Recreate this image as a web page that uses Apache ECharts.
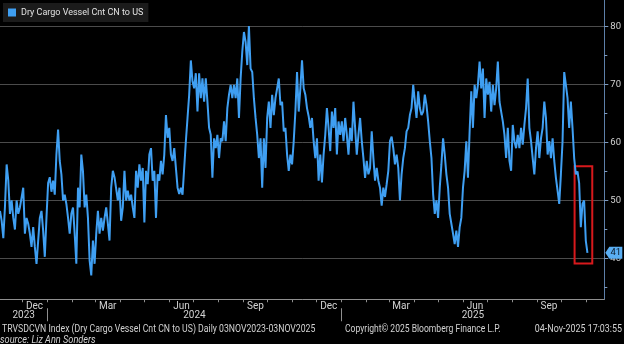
<!DOCTYPE html>
<html>
<head>
<meta charset="utf-8">
<script src="https://cdn.jsdelivr.net/npm/echarts@6/dist/echarts.min.js"></script>
<style>
  html, body { margin: 0; padding: 0; background: #000; }
  #chart { width: 624px; height: 344px; }
</style>
</head>
<body>
<div id="chart"></div>
<script>
// Dry cargo vessel count, China to US, evenly spaced readings 03NOV2023 - 03NOV2025
const seriesName = 'Dry Cargo Vessel Cnt CN to US';

const vesselCntPart1 = [
  48.2,46.5,43.5,49,56.2,53.4,47.7,50,47,45,
  50,47.7,48.8,50.5,52.2,44.3,47,46,44.3,42,
  45.4,42,39.1,39.1,47,48.2,44.8,40.3,47,53,
  54,51.5,53.4,51,57.9,62.2,56.8,54.5,50,51,
  49.4,47,44.3,47.7,48.8,44.3,39.1,52.2,48.8,57.9,
  55,48.8,51,47,39.7,37.1,43.1,39.1,44.3,48.2,
  44.3,47,44.8,47,48.8,46,43.1,52.2,55.1,54,
  53.9,50,52.2,46.5,48.8,55.1,50,51.7,50,51,
  48.8,47,55.1,52.2,56.2,53.4,55.6,46.2,55.1,52.8,
  57.9,59,53.4,55.1,47,54.5,53.4,56.8,54.5,57.9,
  64.7,60.8,62.5,57.9,56.8,59,55.6,52.2,51.1,52.2,
  51,51,60.2,64.2,68.2,74.1,70.5,69.3,71.9,65.3,
  71.9,67.6,71,67,71,67,62.5,61.3,53.9,60.7,
  59,61.3,57.3,60.7,60.2,63.6,60.2,65.9,68.2,69.9,
  67.6,69.9,67.6,71,64.2,71,75.6,79,77.3,73.3,
  80,72.7,72.1,67.6,64.2,61.3,57.3,60.7,52.2,60.7,
  55.6,64.2,67,62.5,68.2,64.7,67.6,69.3,71,66.4,
  67,61.9,62.5,57.9,55.1,57.9,56.2,60.2,65.3,72.1
];

const vesselCntPart2 = [
  65.3,69.3,74.1,69.3,68.2,65.9,64.5,62.5,64.2,60.2,
  57.3,60.7,53.4,57.9,53.1,57.9,61.3,65.9,62.5,58.5,
  65.3,62.5,65.9,57.9,63.6,61.3,63.6,60.2,64.2,61.3,
  57.9,62.5,60.2,67,62.5,57.9,61.3,64.2,60.2,57.3,
  53.9,56.8,54.5,55.6,61.9,57.3,53.4,55.6,53.4,52.2,
  49.1,52.2,50.6,52.8,55.1,60.2,61,59,56.2,57.9,
  55.6,50,54.5,57.3,59,61.9,62.5,64.7,65.9,69.9,
  67,64.2,68.8,65.9,64.7,65.3,68.2,66.4,63.6,60.2,
  57.3,51.1,47.7,50,47,52.2,56.2,60.7,57.9,54.5,
  52.2,47.7,46,44.3,42.5,44.8,42,45.4,47,52.2,
  55.1,60.2,53.9,61.9,68.8,62.5,69.9,67.6,69.9,73.9,
  69.3,72.7,64.2,71,68.2,70.4,65.3,69.9,66.4,69.3,
  73.9,67,65.3,63.6,61.3,57.3,62.5,56.8,55.1,63,
  60.2,59,61.3,59,62.5,59.6,63,65.9,71,62.5,
  60.2,57.3,54.5,59,61.9,57.3,60.7,62.5,67,64.2,
  57.9,60.2,57.3,60.7,56.8,53.9,51.7,49.4,54.5,60.2,
  72.1,69.9,67.6,62.5,67,62.5,57.3,54.5,55,53,
  45.4,49.4,50,43.1,41
];

const firstDay = [2023, 10, 3];   // 03NOV2023
const lastDay  = [2025, 10, 3];   // 03NOV2025
const axisEndDay = [2025, 10, 24];

const yMajorTicks = [40, 50, 60, 70, 80];
const yMinorTicks = [35, 45, 55, 65, 75];
const monthAbbr = ['Jan','Feb','Mar','Apr','May','Jun','Jul','Aug','Sep','Oct','Nov','Dec'];
const labelledMonths = [11, 2, 5, 8];   // Dec, Mar, Jun, Sep

// highlighted recent drop: from date, to date, value range
const boxFrom = [2025, 9, 18];
const boxTo = [2025, 10, 9];
const boxRange = [39.15, 55.9];

const ts = (d) => new Date(d[0], d[1], d[2]).getTime();
const t0 = ts(firstDay), t1 = ts(lastDay), tEnd = ts(axisEndDay);

const values = vesselCntPart1.concat(vesselCntPart2);
const step = (t1 - t0) / (values.length - 1);
const lineData = values.map((v, i) => [t0 + i * step, v]);
const lastValue = values[values.length - 1];

// month boundaries and mid-month label positions
const monthStarts = [], monthMids = [], yearStarts = [], yearMids = [];
for (let y = 2023; y <= 2025; y++) {
  for (let m = 0; m < 12; m++) {
    const s = new Date(y, m, 1).getTime();
    if (s > t0 && s < tEnd) monthStarts.push(s);
    const mid = new Date(y, m, 16).getTime();
    if (labelledMonths.includes(m) && mid > t0 && mid < tEnd) monthMids.push(mid);
  }
  const ys = new Date(y, 0, 1).getTime(), ye = new Date(y + 1, 0, 1).getTime();
  if (ys > t0) yearStarts.push(ys);
  yearMids.push((Math.max(ys, t0) + Math.min(ye, tEnd)) / 2);
}

const FONT = 'Roboto, "Liberation Sans", sans-serif';
const textGrey = '#d2d2d2';
const axisGrey = '#8f8f8f';

// footer line text, squeezed horizontally like a terminal font
const footer = (x, y, text, scale, align, italic) => ({
  type: 'text', x: x, y: y, scaleX: scale, silent: true,
  style: { text: text, fill: textGrey, align: align || 'left', verticalAlign: 'middle',
           font: (italic ? 'italic ' : '') + '10px ' + FONT }
});

const chart = echarts.init(document.getElementById('chart'), null, { renderer: 'canvas' });
chart.setOption({
  animation: false,
  backgroundColor: '#000',
  legend: {
    data: [seriesName],
    left: 3, top: 3,
    padding: [5, 5, 5, 5],
    backgroundColor: '#1b1b1b',
    icon: 'rect',
    itemWidth: 8, itemHeight: 8,
    textStyle: { color: '#e2e2e2', fontSize: 9, fontFamily: FONT }
  },
  grid: { left: 0, right: 17.3, top: -2.33, bottom: 44.75, containLabel: false },
  xAxis: [{
    type: 'value', min: t0, max: tEnd,
    axisLine: { lineStyle: { color: axisGrey, width: 1 } },
    axisTick: { show: true, customValues: monthStarts, length: 3, lineStyle: { color: axisGrey } },
    axisLabel: {
      customValues: monthMids, margin: 2, color: textGrey, fontSize: 10, fontFamily: FONT,
      formatter: (v) => monthAbbr[new Date(v).getMonth()]
    },
    splitLine: { show: false }
  }, {
    type: 'value', min: t0, max: tEnd, position: 'bottom', offset: 9,
    axisLine: { show: false },
    axisTick: { show: true, customValues: yearStarts, length: 13, lineStyle: { color: axisGrey } },
    axisLabel: {
      customValues: yearMids, margin: 2, color: textGrey, fontSize: 10, fontFamily: FONT,
      formatter: (v) => String(new Date(v).getFullYear())
    },
    splitLine: { show: false }
  }],
  yAxis: [{
    type: 'value', position: 'right', min: 33, max: 84.5,
    axisLine: { show: true, lineStyle: { color: '#5d7fa8', width: 1 } },
    axisTick: { show: true, customValues: yMajorTicks, length: 4, lineStyle: { color: '#7f9cc0' } },
    axisLabel: { customValues: yMajorTicks, margin: 6, color: textGrey, fontSize: 9.5, fontFamily: FONT },
    splitLine: { show: true, lineStyle: { color: '#4b4b4b', width: 1 } }
  }, {
    type: 'value', position: 'right', min: 33, max: 84.5,
    axisLine: { show: false },
    axisTick: { show: true, customValues: yMinorTicks, length: 3, lineStyle: { color: '#7f9cc0' } },
    axisLabel: { show: false },
    splitLine: { show: false }
  }],
  series: [{
    name: seriesName,
    type: 'line',
    data: lineData,
    showSymbol: false,
    symbol: 'none',
    color: '#3f9ff2',
    lineStyle: { color: '#3f9ff2', width: 2 },
    markArea: {
      silent: true,
      itemStyle: { color: 'rgba(0,0,0,0)', borderColor: '#d7191c', borderWidth: 2 },
      data: [[{ xAxis: ts(boxFrom), yAxis: boxRange[1] }, { xAxis: ts(boxTo), yAxis: boxRange[0] }]]
    },
    markPoint: {
      silent: true,
      symbol: 'path://M0,6 L4,0 L17,0 L17,12 L4,12 Z',
      symbolSize: [17, 12],
      symbolOffset: [9.5, 0],
      itemStyle: { color: '#5aaef2' },
      label: { show: true, color: '#0b1a2a', fontSize: 9.5, fontFamily: FONT, offset: [2, 0], formatter: '{c}' },
      data: [{ coord: [tEnd, lastValue], value: lastValue }]
    }
  }],
  graphic: [
    footer(2, 329, 'TRVSDCVN Index (Dry Cargo Vessel Cnt CN to US) Daily 03NOV2023-03NOV2025', 0.87),
    footer(345, 329, 'Copyright\u00a9 2025 Bloomberg Finance L.P.', 0.855),
    footer(622, 329, '04-Nov-2025 17:03:55', 0.89, 'right'),
    footer(0, 340, 'source: Liz Ann Sonders', 0.92, 'left', true)
  ]
});
</script>
</body>
</html>
